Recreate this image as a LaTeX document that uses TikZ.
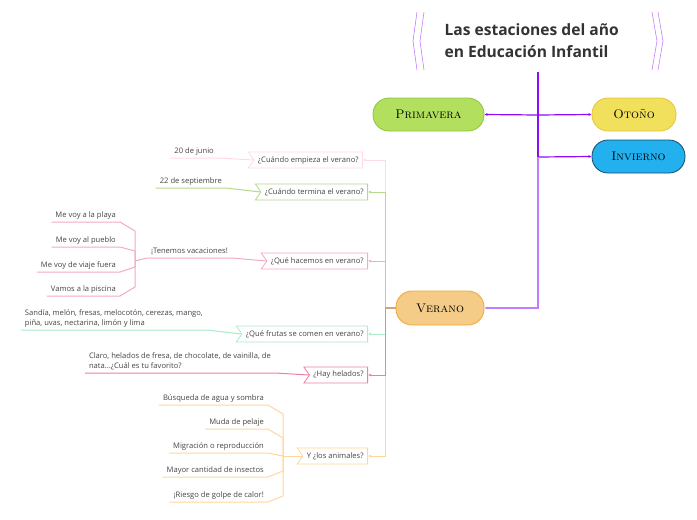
\documentclass[tikz,border=0pt]{standalone}
\usepackage{fontspec}
\setsansfont{Open Sans}
\usepackage{tikz}
\usetikzlibrary{shapes,arrows.meta}

\definecolor{txt}{HTML}{454545}
\definecolor{titletxt}{HTML}{333333}
\definecolor{hub}{HTML}{8E0BFA}
\definecolor{hublight}{HTML}{C27CFF}
\definecolor{trunk}{HTML}{D9A275}
\definecolor{c1}{HTML}{FFD9E8}
\definecolor{c2}{HTML}{B4D98C}
\definecolor{c3}{HTML}{F5A9C9}
\definecolor{c4}{HTML}{A9EDC9}
\definecolor{c5}{HTML}{EF7FA7}
\definecolor{c6}{HTML}{FFD79E}
\definecolor{primfill}{HTML}{B2E05E}
\definecolor{primline}{HTML}{8CC63F}
\definecolor{otofill}{HTML}{F0E05C}
\definecolor{otoline}{HTML}{E6C43C}
\definecolor{invfill}{HTML}{22B0EE}
\definecolor{invline}{HTML}{1A4A6A}
\definecolor{verfill}{HTML}{F4CC88}
\definecolor{verline}{HTML}{F4A630}

\begin{document}
\begin{tikzpicture}[x=1pt,y=-1pt]
\tikzset{
	season/.style = {draw=#1, rounded corners=16pt, minimum height=33pt, line width=0.8pt, inner sep=2pt, font=\rmfamily\scshape\fontsize{12.5}{12}\selectfont},
	qbox/.style = {signal, signal from=west, signal to=nowhere, signal pointer angle=110, draw=#1, fill=white, line width=0.8pt, minimum height=16pt, inner xsep=4pt, inner ysep=1pt, anchor=east, font=\sffamily\fontsize{7.6}{8}\selectfont, text=txt},
	leaf/.style = {anchor=south east, inner xsep=4pt, inner ysep=2.5pt, align=left, font=\sffamily\fontsize{7.6}{10}\selectfont, text=txt},
	link/.style = {draw=#1, line width=1pt},
	tip/.style = {-{Latex[length=3pt,width=3pt]}},
	bracket/.style = {draw=hublight, line width=0.6pt}
}
\fill[white] (0,0) rectangle (697,520);

% title
\node (title) [anchor=west, align=left, font=\sffamily\bfseries\fontsize{15.6}{22}\selectfont, text=titletxt] at (441,41) {Las estaciones del año\\en Educación Infantil};
\draw[bracket] (417,12) -- (413,41) -- (417,70);
\draw[bracket] (424,12) -- (420,41) -- (424,70);
\draw[bracket] (652,12) -- (657,41) -- (652,70);
\draw[bracket] (658,12) -- (663,41) -- (658,70);

% seasons
\node (prim) [season=primline, fill=primfill, minimum width=111pt] at (428.5,114.5) {Primavera};
\node (oto) [season=otoline, fill=otofill, minimum width=84pt] at (634,114.5) {Otoño};
\node (inv) [season=invline, fill=invfill, minimum width=93pt] at (638.5,156.5) {Invierno};
\node (ver) [season=verline, fill=verfill, minimum width=88pt, minimum height=34pt] at (440,308) {Verano};

\coordinate (top) at (538,72);
\coordinate (b1) at (538,115);
\coordinate (b2) at (538,157);
\coordinate (b3) at (538,308);
\draw[hub, line width=1.8pt] (top) -- (b2);
\draw[hub, line width=1.2pt, tip] (b1) -- (prim.east);
\draw[hub, line width=1.2pt, tip] (b1) -- (oto.west);
\draw[hub, line width=1.2pt, tip] (b2) -- (inv.west);
\draw[hublight, line width=1.6pt, tip] (b2) -- (b3) -- (ver.east);

% questions
\node (q1) [qbox=c1] at (363,160) {¿Cuándo empieza el verano?};
\node (q2) [qbox=c2] at (368,192) {¿Cuándo termina el verano?};
\node (q3) [qbox=c3] at (368,261) {¿Qué hacemos en verano?};
\node (q4) [qbox=c4] at (368,334) {¿Qué frutas se comen en verano?};
\node (q5) [qbox=c5] at (368,375) {¿Hay helados?};
\node (q6) [qbox=c6] at (368,456) {Y ¿los animales?};

\coordinate (tr) at (385,308);
\draw[link=c6, tip] (tr) |- (q6.east);
\draw[link=c4, tip] (tr) |- (q4.east);
\draw[link=c5, tip] (tr) |- (q5.east);
\draw[link=c1, tip] (tr) |- (q1.east);
\draw[link=c2, tip] (tr) |- (q2.east);
\draw[link=c3, tip] (tr) |- (q3.east);
\draw[trunk, line width=1.6pt] (ver.west) -- (tr);

% answers
\node (l1) [leaf] at (218,158) {20 de junio};
\draw[link=c1] (l1.south west) -- (l1.south east) -- (q1.west);
\node (l2) [leaf] at (226,188) {22 de septiembre};
\draw[link=c2] (l2.south west) -- (l2.south east) -- (q2.west);

\node (l3) [leaf] at (232,258) {¡Tenemos vacaciones!};
\coordinate (j3) at (135,261);
\draw[link=c3] (j3) -- (l3.south west) -- (l3.south east) -- (q3.west);
\node (s1) [leaf] at (120,222) {Me voy a la playa};
\node (s2) [leaf] at (120,247) {Me voy al pueblo};
\node (s3) [leaf] at (120,272) {Me voy de viaje fuera};
\node (s4) [leaf] at (120,296) {Vamos a la piscina};
\draw[link=c3] (s1.south west) -- (s1.south east) -- ++(15,9) |- (j3);
\draw[link=c3] (s2.south west) -- (s2.south east) -- ++(15,4) |- (j3);
\draw[link=c3] (s3.south west) -- (s3.south east) -- ++(15,-5) |- (j3);
\draw[link=c3] (s4.south west) -- (s4.south east) -- ++(15,-9) |- (j3);

\node (l4) [leaf] at (207,330) {Sandía, melón, fresas, melocotón, cerezas, mango,\\piña, uvas, nectarina, limón y lima};
\draw[link=c4] (l4.south west) -- (l4.south east) -- (q4.west);
\node (l5) [leaf] at (275,373) {Claro, helados de fresa, de chocolate, de vainilla, de\\nata...¿Cuál es tu favorito?};
\draw[link=c5] (l5.south west) -- (l5.south east) -- (q5.west);

\coordinate (j6) at (283,456);
\draw[link=c6] (j6) -- (q6.west);
\node (a1) [leaf] at (268,405) {Búsqueda de agua y sombra};
\node (a2) [leaf] at (268,429) {Muda de pelaje};
\node (a3) [leaf] at (268,453) {Migración o reproducción};
\node (a4) [leaf] at (268,477) {Mayor cantidad de insectos};
\node (a5) [leaf] at (268,502) {¡Riesgo de golpe de calor!};
\draw[link=c6] (a1.south west) -- (a1.south east) -- ++(15,9) |- (j6);
\draw[link=c6] (a2.south west) -- (a2.south east) -- ++(15,9) |- (j6);
\draw[link=c6] (a3.south west) -- (a3.south east) -- (j6);
\draw[link=c6] (a4.south west) -- (a4.south east) -- ++(15,-6) |- (j6);
\draw[link=c6] (a5.south west) -- (a5.south east) -- ++(15,-6) |- (j6);
\end{tikzpicture}
\end{document}
